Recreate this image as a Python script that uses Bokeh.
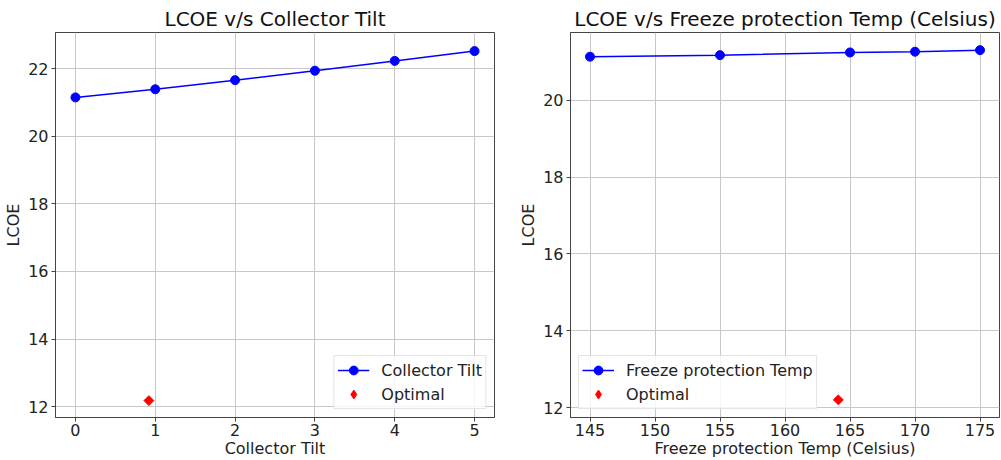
import math
from bokeh.plotting import figure
from bokeh.layouts import row
from bokeh.models import Range1d, FixedTicker
from bokeh.embed import file_html
from bokeh.resources import INLINE

# Data
tilt_x = [0, 1, 2, 3, 4, 5]
tilt_lcoe = [21.15, 21.39, 21.66, 21.94, 22.23, 22.52]
tilt_opt_x = [0.92]
tilt_opt_y = [12.18]

freeze_x = [145, 155, 165, 170, 175]
freeze_lcoe = [21.14, 21.18, 21.25, 21.27, 21.31]
freeze_opt_x = [164.1]
freeze_opt_y = [12.2]

tilt_ticks = [0, 1, 2, 3, 4, 5]
freeze_ticks = [145, 150, 155, 160, 165, 170, 175]
y_ticks = [12, 14, 16, 18, 20, 22]

FONT = "DejaVu Sans"


def make_fig(title, xlabel, x_range, y_range, xticks, width, left, right):
    p = figure(width=width, height=460, x_range=x_range, y_range=y_range,
               output_backend="svg", toolbar_location=None,
               min_border_left=left, min_border_right=right,
               min_border_top=32, min_border_bottom=42)
    p.title.text = title
    p.title.align = "center"
    p.title.text_font = FONT
    p.title.text_font_size = "20px"
    p.title.text_font_style = "normal"
    p.title.text_color = "#111111"
    p.title.standoff = 3
    p.outline_line_color = "#444444"
    p.outline_line_width = 1
    p.background_fill_color = "white"
    p.border_fill_color = "white"
    for ax in (p.xaxis[0], p.yaxis[0]):
        ax.axis_line_color = "#444444"
        ax.major_tick_line_color = "#444444"
        ax.major_tick_out = 4
        ax.major_tick_in = 0
        ax.minor_tick_line_color = None
        ax.major_label_text_font = FONT
        ax.major_label_text_font_size = "16px"
        ax.major_label_text_color = "#222222"
        ax.axis_label_text_font = FONT
        ax.axis_label_text_font_size = "16px"
        ax.axis_label_text_font_style = "normal"
        ax.axis_label_text_color = "#222222"
        ax.major_label_standoff = 2
        ax.axis_label_standoff = 0
    p.yaxis[0].major_label_standoff = 3
    p.yaxis[0].axis_label_standoff = 2
    p.xaxis[0].ticker = FixedTicker(ticks=xticks)
    p.yaxis[0].ticker = FixedTicker(ticks=y_ticks)
    p.xaxis[0].axis_label = xlabel
    p.yaxis[0].axis_label = "LCOE"
    p.grid.grid_line_color = "#c8c8c8"
    p.grid.grid_line_width = 1
    return p


def add_series(p, xs, ys, ox, oy, label):
    p.line(xs, ys, line_color="blue", line_width=1.5, legend_label=label)
    p.scatter(xs, ys, marker="circle", size=9, fill_color="blue", line_color="blue",
              legend_label=label)
    # optimal point: square rotated 45 degrees (matplotlib "D")
    p.scatter(ox, oy, marker="square", angle=math.pi / 4, size=7,
              fill_color="red", line_color="red")
    # legend swatch for the optimal point (not drawn in the plot area)
    p.scatter([float("nan")], [float("nan")], marker="diamond", size=12,
              fill_color="red", line_color="red", legend_label="Optimal")


p1 = make_fig("LCOE v/s Collector Tilt", "Collector Tilt",
              Range1d(-0.25, 5.25), Range1d(11.68, 23.07), tilt_ticks, 500, 55, 6)
add_series(p1, tilt_x, tilt_lcoe, tilt_opt_x, tilt_opt_y, "Collector Tilt")

p2 = make_fig("LCOE v/s Freeze protection Temp (Celsius)", "Freeze protection Temp (Celsius)",
              Range1d(143.5, 176.5), Range1d(11.74, 21.77), freeze_ticks, 501, 70, 2)
add_series(p2, freeze_x, freeze_lcoe, freeze_opt_x, freeze_opt_y, "Freeze protection Temp")

for p, loc in ((p1, "bottom_right"), (p2, "bottom_left")):
    lg = p.legend[0]
    lg.location = loc
    lg.margin = 8
    lg.padding = 3
    lg.spacing = 2
    lg.label_text_font = FONT
    lg.label_text_font_size = "16px"
    lg.label_text_color = "#222222"
    lg.glyph_width = 32
    lg.glyph_height = 22
    lg.label_standoff = 12
    lg.border_line_color = "#cccccc"
    lg.background_fill_alpha = 0.8

layout = row(p1, p2)
open("out.html", "w").write(file_html(layout, INLINE))
